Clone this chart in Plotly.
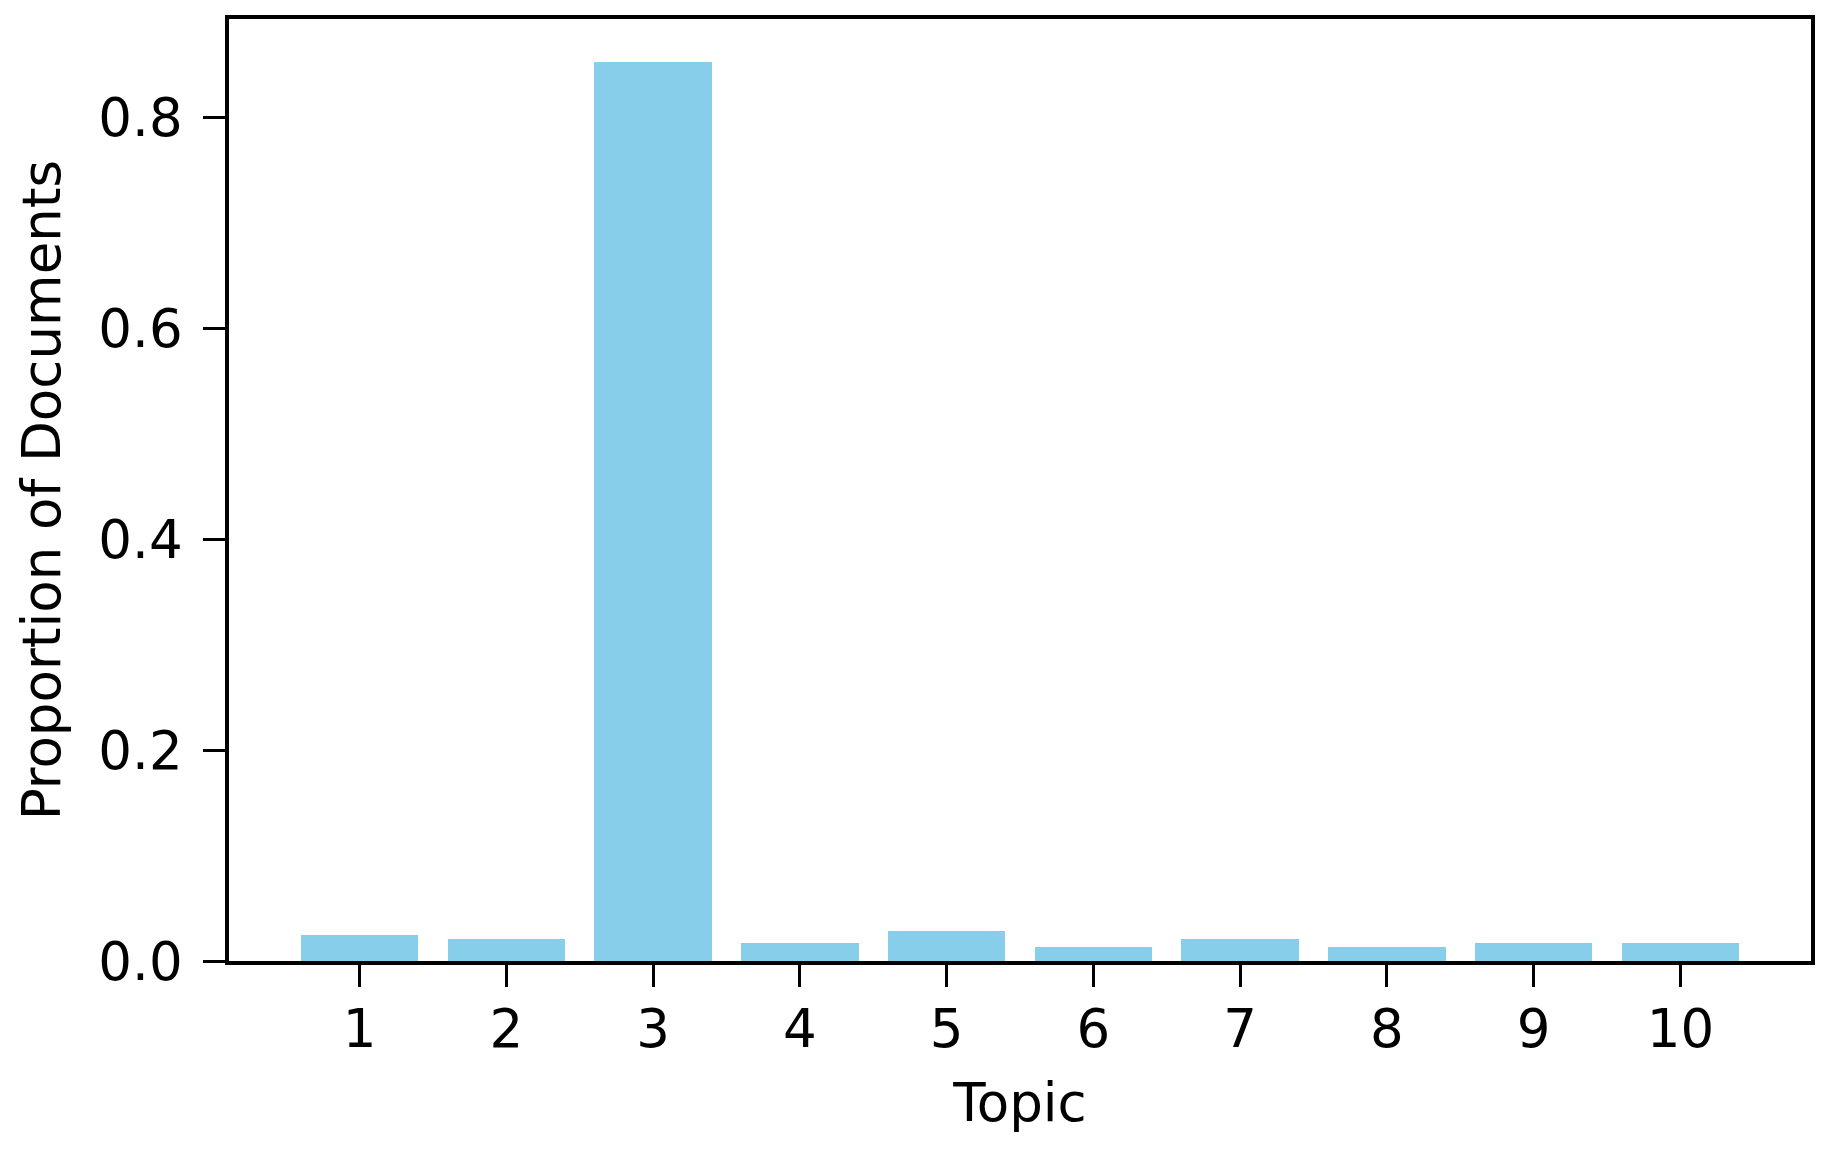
import plotly.graph_objects as go

topics = [1, 2, 3, 4, 5, 6, 7, 8, 9, 10]
proportions = [0.0246, 0.0209, 0.852, 0.0171, 0.0284, 0.0130, 0.0209, 0.0130, 0.0171, 0.0171]
ytick_vals = [0.0, 0.2, 0.4, 0.6, 0.8]
ytick_text = ["0.0", "0.2", "0.4", "0.6", "0.8"]

FONT = "DejaVu Sans"
FS = 53

fig = go.Figure()
fig.add_trace(go.Bar(
    x=topics, y=proportions, width=0.8,
    marker=dict(color="#87CEEB", line=dict(width=0)),
))

# page body has an 8px default margin; compensate so the plot area lands where the reference has it
fig.update_layout(
    width=1822, height=1145,
    margin=dict(l=221, r=19, t=11, b=192, autoexpand=False),
    paper_bgcolor="white", plot_bgcolor="white",
    font=dict(family=FONT, size=FS, color="black"),
    showlegend=False,
    bargap=0,
)
fig.update_xaxes(
    range=[0.11, 10.89],
    tickmode="array", tickvals=topics, ticktext=[str(t) for t in topics],
    ticks="outside", ticklen=22, tickwidth=3, tickcolor="black",
    showline=True, linewidth=3.5, linecolor="black", mirror=True,
    showgrid=False, zeroline=False,
    tickfont=dict(family=FONT, size=FS),
    ticklabelstandoff=-3,
    title=dict(text="Topic", font=dict(family=FONT, size=FS), standoff=27),
    automargin=False,
)
fig.update_yaxes(
    range=[0, 0.893],
    tickmode="array", tickvals=ytick_vals, ticktext=ytick_text,
    ticks="outside", ticklen=22, tickwidth=3, tickcolor="black",
    showline=True, linewidth=3.5, linecolor="black", mirror=True,
    showgrid=False, zeroline=False,
    tickfont=dict(family=FONT, size=FS),
    ticklabelstandoff=10,
    title=dict(text="Proportion of Documents", font=dict(family=FONT, size=FS), standoff=22),
    automargin=False,
)

fig.write_html("out.html")
